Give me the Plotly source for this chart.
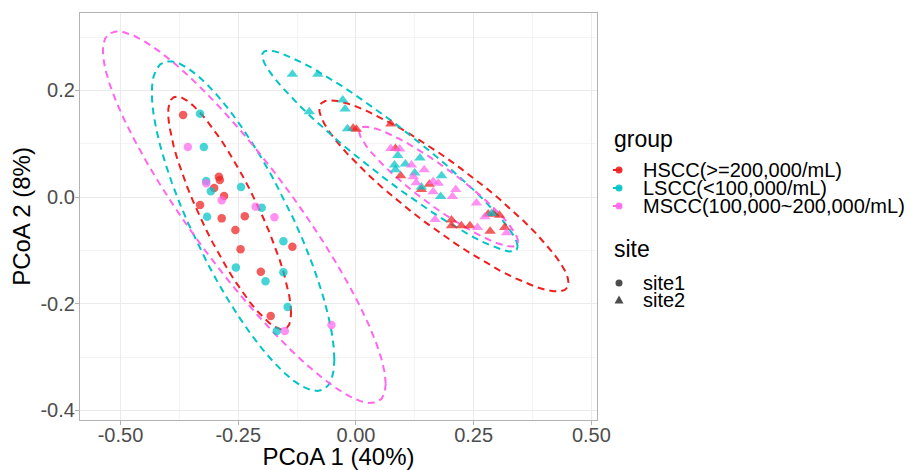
import numpy as np
import plotly.graph_objects as go

# ---------------- data ----------------
groups = ["HSCC(>=200,000/mL)", "LSCC(<100,000/mL)", "MSCC(100,000~200,000/mL)"]
sites = ["site1", "site2"]

# site1 (circles)
hscc_s1_x = [-0.367, -0.301, -0.291, -0.289, -0.280, -0.331, -0.285, -0.236, -0.256, -0.245, -0.135, -0.202, -0.181]
hscc_s1_y = [0.154, 0.017, 0.038, 0.032, 0.002, -0.015, -0.040, -0.036, -0.062, -0.098, -0.093, -0.140, -0.223]
lscc_s1_x = [-0.331, -0.323, -0.318, -0.308, -0.244, -0.316, -0.200, -0.255, -0.154, -0.154, -0.192, -0.145, -0.168]
lscc_s1_y = [0.156, 0.094, 0.030, 0.011, 0.019, -0.037, -0.020, -0.132, -0.083, -0.141, -0.158, -0.206, -0.251]
mscc_s1_x = [-0.357, -0.318, -0.285, -0.213, -0.173, -0.151, -0.052]
mscc_s1_y = [0.094, 0.026, -0.006, -0.018, -0.038, -0.251, -0.240]

# site2 (triangles)
hscc_s2_x = [-0.006, 0.001, 0.074, 0.084, 0.095, 0.156, 0.139, 0.281, 0.292, 0.305, 0.203, 0.203, 0.224, 0.242, 0.285, 0.316]
hscc_s2_y = [0.129, 0.127, 0.137, 0.091, 0.040, 0.024, 0.014, -0.032, -0.032, -0.034, -0.043, -0.054, -0.054, -0.054, -0.064, -0.057]
lscc_s2_x = [-0.135, -0.081, -0.099, -0.028, -0.023, -0.018, 0.089, 0.082, 0.084, 0.136, 0.182, 0.139, 0.180, 0.288, 0.105, 0.125]
lscc_s2_y = [0.230, 0.230, 0.160, 0.182, 0.165, 0.128, 0.078, 0.060, 0.051, 0.073, 0.040, 0.019, 0.001, -0.031, 0.062, 0.045]
mscc_s2_x = [0.074, 0.093, 0.118, 0.145, 0.122, 0.128, 0.164, 0.175, 0.164, 0.205, 0.212, 0.256, 0.274, 0.168, 0.258, 0.320]
mscc_s2_y = [0.091, 0.090, 0.060, 0.051, 0.038, 0.027, 0.029, 0.026, 0.010, 0.001, 0.014, -0.011, -0.037, -0.042, -0.057, -0.067]

x_tick_vals = [-0.50, -0.25, 0.00, 0.25, 0.50]
x_tick_labels = ["-0.50", "-0.25", "0.00", "0.25", "0.50"]
y_tick_vals = [-0.4, -0.2, 0.0, 0.2]
y_tick_labels = ["-0.4", "-0.2", "0.0", "0.2"]

x_title = "PCoA 1 (40%)"
y_title = "PCoA 2 (8%)"
legend_titles = ["group", "site"]

# ---------------- styles ----------------
colors = {"HSCC(>=200,000/mL)": "#F01E1E", "LSCC(<100,000/mL)": "#00C4C6", "MSCC(100,000~200,000/mL)": "#FF66EE"}
symbols = {"site1": "circle", "site2": "triangle-up"}
FONT = "Liberation Sans, Arial, sans-serif"

series = [
    (groups[0], sites[0], hscc_s1_x, hscc_s1_y),
    (groups[1], sites[0], lscc_s1_x, lscc_s1_y),
    (groups[2], sites[0], mscc_s1_x, mscc_s1_y),
    (groups[0], sites[1], hscc_s2_x, hscc_s2_y),
    (groups[1], sites[1], lscc_s2_x, lscc_s2_y),
    (groups[2], sites[1], mscc_s2_x, mscc_s2_y),
]


def cov_trob(pts, nu=5, maxit=25, tol=0.01):
    x = np.asarray(pts, dtype=float)
    n, p = x.shape
    wt = np.ones(n)
    loc = x.mean(axis=0)
    w = np.sqrt(wt)
    X = x - loc
    for _ in range(maxit):
        w0 = w
        X = x - loc
        sw = np.sqrt(w / w.sum())
        _, d, vt = np.linalg.svd(sw[:, None] * X, full_matrices=False)
        wX = X @ vt.T @ np.diag(1.0 / d)
        Q = (wX ** 2).sum(axis=1)
        w = wt * (nu + p) / (nu + Q)
        loc = (w[:, None] * x).sum(axis=0) / w.sum()
        if np.all(np.abs(w - w0) < tol):
            break
    cov = (np.sqrt(w)[:, None] * X).T @ (np.sqrt(w)[:, None] * X) / wt.sum()
    return loc, cov


def stat_ellipse(xs, ys, level=0.95, segments=51):
    pts = np.column_stack([xs, ys])
    center, shape = cov_trob(pts)
    dfd = len(xs) - 1
    fq = (dfd / 2.0) * ((1 - level) ** (-2.0 / dfd) - 1)
    radius = np.sqrt(2 * fq)
    L = np.linalg.cholesky(shape)
    ang = np.arange(segments + 1) * 2 * np.pi / segments
    circ = np.column_stack([np.cos(ang), np.sin(ang)])
    ell = center + radius * (circ @ L.T)
    return ell[:, 0], ell[:, 1]


fig = go.Figure()

# ellipses
for g, s, xs, ys in series:
    ex, ey = stat_ellipse(xs, ys)
    fig.add_trace(go.Scatter(x=ex, y=ey, mode="lines", showlegend=False, hoverinfo="skip",
                             line=dict(color=colors[g], width=2, dash="7px,5px")))

# points
for g, s, xs, ys in series:
    fig.add_trace(go.Scatter(x=xs, y=ys, mode="markers", showlegend=False, name=g,
                             marker=dict(color=colors[g], symbol=symbols[s],
                                         size=8.5 if s == "site1" else 10, opacity=0.72,
                                         line=dict(width=0))))


def minor_vals(vals):
    v = np.asarray(vals, dtype=float)
    step = v[1] - v[0]
    ext = np.concatenate([[v[0] - step], v, [v[-1] + step]])
    return list((ext[:-1] + ext[1:]) / 2)


axis_common = dict(
    showline=True, mirror=True, linecolor="#B3B3B3", linewidth=1.3,
    showgrid=True, gridcolor="#EBEBEB", gridwidth=1.1, zeroline=False,
    ticks="outside", ticklen=4, tickwidth=1.1, tickcolor="#B3B3B3",
    tickfont=dict(family=FONT, size=20, color="#4D4D4D"),
)

fig.update_xaxes(range=[-0.586, 0.512], tickmode="array", tickvals=x_tick_vals, ticktext=x_tick_labels,
                 ticklabelstandoff=-7,
                 minor=dict(tickmode="array", tickvals=minor_vals(x_tick_vals), showgrid=True,
                            gridcolor="#F4F4F4", gridwidth=0.6, ticks=""),
                 title=dict(text=x_title, font=dict(family=FONT, size=24, color="#000000"), standoff=0),
                 **axis_common)
fig.update_yaxes(range=[-0.418, 0.345], tickmode="array", tickvals=y_tick_vals, ticktext=y_tick_labels,
                 ticklabelstandoff=-4,
                 minor=dict(tickmode="array", tickvals=minor_vals(y_tick_vals), showgrid=True,
                            gridcolor="#F4F4F4", gridwidth=0.6, ticks=""),
                 title=dict(text=y_title, font=dict(family=FONT, size=24, color="#000000"), standoff=2),
                 **axis_common)

# ---------------- manual ggplot-style legend ----------------
PL, PR, PT, PB = 80, 314, 13, 50
W, H = 911, 470
pw, ph = W - PL - PR, H - PT - PB


def px_x(px):
    return (px - PL) / pw


def px_y(py):
    return (H - PB - py) / ph


annotations = []
shapes = []
key_x = 619
text_x = 641
annotations.append(dict(text=legend_titles[0], x=px_x(612), y=px_y(139), xref="paper", yref="paper",
                        xanchor="left", yanchor="middle", showarrow=False,
                        font=dict(family=FONT, size=23, color="#000000")))
for g, yy in zip(groups, [170, 188, 206]):
    annotations.append(dict(text=g, x=px_x(text_x), y=px_y(yy), xref="paper", yref="paper",
                            xanchor="left", yanchor="middle", showarrow=False,
                            font=dict(family=FONT, size=20, color="#000000")))
    shapes.append(dict(type="line", xref="paper", yref="paper", xsizemode="pixel", ysizemode="pixel",
                       xanchor=px_x(key_x), yanchor=px_y(yy), x0=-6, x1=2, y0=0, y1=0,
                       line=dict(color=colors[g], width=2)))
    shapes.append(dict(type="circle", xref="paper", yref="paper", xsizemode="pixel", ysizemode="pixel",
                       xanchor=px_x(key_x), yanchor=px_y(yy), x0=-3.5, x1=3.5, y0=-3.5, y1=3.5,
                       fillcolor=colors[g], line=dict(width=0), opacity=0.9))

annotations.append(dict(text=legend_titles[1], x=px_x(612), y=px_y(249), xref="paper", yref="paper",
                        xanchor="left", yanchor="middle", showarrow=False,
                        font=dict(family=FONT, size=23, color="#000000")))
for s, yy in zip(sites, [283, 300]):
    annotations.append(dict(text=s, x=px_x(text_x), y=px_y(yy), xref="paper", yref="paper",
                            xanchor="left", yanchor="middle", showarrow=False,
                            font=dict(family=FONT, size=20, color="#000000")))
    if s == "site1":
        shapes.append(dict(type="circle", xref="paper", yref="paper", xsizemode="pixel", ysizemode="pixel",
                           xanchor=px_x(key_x), yanchor=px_y(yy), x0=-3.5, x1=3.5, y0=-3.5, y1=3.5,
                           fillcolor="#4D4D4D", line=dict(width=0)))
    else:
        shapes.append(dict(type="path", xref="paper", yref="paper", xsizemode="pixel", ysizemode="pixel",
                           xanchor=px_x(key_x), yanchor=px_y(yy),
                           path="M -4.5 -3.5 L 4.5 -3.5 L 0 4.5 Z",
                           fillcolor="#4D4D4D", line=dict(width=0)))

fig.update_layout(
    width=W, height=H,
    margin=dict(l=PL, r=PR, t=PT, b=PB, autoexpand=False),
    paper_bgcolor="white", plot_bgcolor="white",
    showlegend=False,
    font=dict(family=FONT),
    annotations=annotations, shapes=shapes,
)

fig.write_html("out.html")
